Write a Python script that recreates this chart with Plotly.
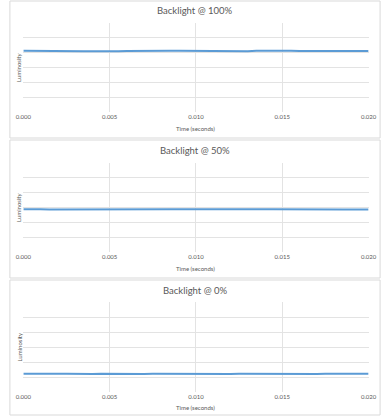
import plotly.graph_objects as go

time_s = [i * 0.0005 for i in range(41)]

lum_100 = [82.5, 82.3, 82.6, 82.2, 82.4, 82.1, 82.0, 81.9, 82.0, 81.8, 81.9, 82.0, 82.4, 82.6, 82.7, 82.8,
           82.7, 82.6, 82.5, 82.4, 82.2, 82.1, 82.0, 81.8, 81.7, 81.9, 82.0, 82.5, 82.7, 82.9, 82.8,
           82.7, 82.4, 82.3, 82.2, 82.4, 82.6, 82.5, 82.4, 82.3, 82.4]
lum_50 = [57.6, 57.9, 57.5, 57.3, 57.4, 57.3, 57.4, 57.2, 57.3, 57.4, 57.3, 57.5, 57.6, 57.4, 57.5, 57.6,
          57.7, 57.8, 57.6, 57.5, 57.4, 57.3, 57.2, 57.3, 57.4, 57.3, 57.2, 57.4, 57.5, 57.6, 57.7,
          57.6, 57.5, 57.4, 57.3, 57.4, 57.5, 57.4, 57.3, 57.4, 57.3]
lum_0 = [24.2, 24.0, 24.3, 24.1, 24.2, 24.4, 24.1, 24.2, 24.0, 24.3, 24.1, 24.2, 24.0, 24.3, 24.1, 24.2,
         24.1, 24.3, 24.0, 24.2, 24.4, 24.2, 24.1, 24.3, 24.0, 24.2, 24.1, 24.3, 24.4, 24.2, 24.3,
         24.1, 24.2, 24.3, 24.1, 24.2, 24.0, 24.2, 24.1, 24.3, 24.2]

titles = ["Backlight @ 100%", "Backlight @ 50%", "Backlight @ 0%"]
series = [lum_100, lum_50, lum_0]
x_ticks = [0.0, 0.005, 0.010, 0.015, 0.020]
x_tick_text = ["0.000", "0.005", "0.010", "0.015", "0.020"]

H = 419.0
W = 390.0
plot_px = [(23, 112), (163, 252), (302, 392)]
panel_px = [(1, 138), (140, 278), (280, 415)]
title_px = [10, 150, 290]
xtitle_px = [128, 268, 407]

fig = go.Figure()
grid = "#e3e3e3"
txt = "#595959"

for i in range(3):
    n = "" if i == 0 else str(i + 1)
    fig.add_trace(go.Scatter(x=time_s, y=series[i], mode="lines",
                             line=dict(color="#5b9bd5", width=2),
                             xaxis="x" + n, yaxis="y" + n, showlegend=False))
    top, bot = plot_px[i]
    dom = [1 - bot / H, 1 - top / H]
    fig.layout["xaxis" + n] = dict(domain=[16 / W, 376 / W], range=[0, 0.02],
                                    tickvals=x_ticks, ticktext=x_tick_text,
                                    showgrid=True, gridcolor=grid, gridwidth=1,
                                    zeroline=False, showline=False, ticks="",
                                    tickfont=dict(size=6, color=txt, family="Lato"),
                                    anchor="y" + n, fixedrange=True)
    fig.layout["yaxis" + n] = dict(domain=dom, range=[0, 120], dtick=20,
                                    showgrid=True, gridcolor=grid, gridwidth=1,
                                    zeroline=False, showticklabels=False, ticks="",
                                    anchor="x" + n, fixedrange=True)
    pt, pb = panel_px[i]
    fig.add_shape(type="rect", xref="paper", yref="paper",
                  x0=2 / W, x1=388 / W, y0=1 - pb / H, y1=1 - pt / H,
                  line=dict(color="#d9d9d9", width=1), layer="below")
    fig.add_annotation(text=titles[i], xref="paper", yref="paper",
                       x=0.5, y=1 - title_px[i] / H, showarrow=False,
                       xanchor="center", yanchor="middle",
                       font=dict(size=9.5, color=txt, family="Lato"))
    fig.add_annotation(text="Time (seconds)", xref="paper", yref="paper",
                       x=0.5, y=1 - xtitle_px[i] / H, showarrow=False,
                       xanchor="center", yanchor="middle",
                       font=dict(size=6, color=txt, family="Lato"))
    fig.add_annotation(text="Luminosity", xref="paper", yref="paper",
                       x=11 / W, y=1 - ((top + bot) / 2) / H, showarrow=False,
                       textangle=-90, xanchor="center", yanchor="middle",
                       font=dict(size=6, color=txt, family="Lato"))

fig.update_layout(width=390, height=419, margin=dict(l=0, r=0, t=0, b=0),
                  paper_bgcolor="white", plot_bgcolor="white")

fig.write_html("out.html", config={"displayModeBar": False},
               post_script="document.body.style.margin='0';document.body.style.overflow='hidden';")
